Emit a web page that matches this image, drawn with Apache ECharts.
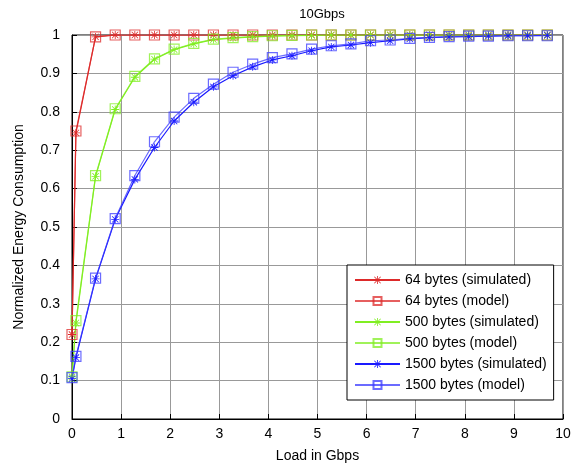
<!DOCTYPE html>
<html><head><meta charset="utf-8">
<script src="https://cdn.jsdelivr.net/npm/echarts@6/dist/echarts.min.js"></script>
<style>html,body{margin:0;padding:0;background:#fff}#c{width:586px;height:468px}</style>
</head><body><div id="c"></div>
<script>
const loads = [0, 0.08, 0.48, 0.88, 1.28, 1.68, 2.08, 2.48, 2.88, 3.28, 3.68, 4.08, 4.48, 4.88, 5.28, 5.68, 6.08, 6.48, 6.88, 7.28, 7.68, 8.08, 8.48, 8.88, 9.28, 9.68];
const red_sim   = [0.22, 0.745, 0.995, 1, 1, 1, 1, 1, 1, 1, 1, 1, 1, 1, 1, 1, 1, 1, 1, 1, 1, 1, 1, 1, 1, 1];
const red_model = [0.22, 0.75, 0.995, 1, 1, 1, 1, 1, 1, 1, 1, 1, 1, 1, 1, 1, 1, 1, 1, 1, 1, 1, 1, 1, 1, 1];
const green_sim   = [0.11, 0.25, 0.632, 0.806, 0.89, 0.937, 0.962, 0.977, 0.988, 0.992, 0.995, 0.997, 0.998, 0.999, 1, 1, 1, 1, 1, 1, 1, 1, 1, 1, 1, 1];
const green_model = [0.11, 0.256, 0.634, 0.808, 0.892, 0.938, 0.963, 0.978, 0.989, 0.993, 0.996, 0.998, 0.999, 1, 1, 1, 1, 1, 1, 1, 1, 1, 1, 1, 1, 1];
const blue_sim   = [0.105, 0.16, 0.365, 0.52, 0.624, 0.707, 0.776, 0.825, 0.865, 0.894, 0.917, 0.935, 0.946, 0.959, 0.969, 0.974, 0.98, 0.985, 0.99, 0.993, 0.995, 0.996, 0.997, 0.998, 0.998, 0.999];
const blue_model = [0.108, 0.163, 0.367, 0.522, 0.634, 0.722, 0.786, 0.835, 0.872, 0.903, 0.924, 0.941, 0.951, 0.963, 0.972, 0.977, 0.985, 0.987, 0.991, 0.994, 0.996, 0.997, 0.997, 0.998, 0.998, 0.998];
const names = ['64 bytes (simulated)', '64 bytes (model)', '500 bytes (simulated)', '500 bytes (model)', '1500 bytes (simulated)', '1500 bytes (model)'];
const xTicks = [0,1,2,3,4,5,6,7,8,9,10];

const STAR = 'path://M4.5 0L5.5 0L5.5 10L4.5 10ZM0 4.5L10 4.5L10 5.5L0 5.5ZM0.7 1.4L1.4 0.7L9.3 8.6L8.6 9.3ZM8.6 0.7L9.3 1.4L1.4 9.3L0.7 8.6Z';
const FONT = 'Liberation Sans';

function pts(ys){ return loads.map((x,i)=>[x, ys[i]]); }
function simSeries(name, ys, color){
  return {name, type:'line', data: pts(ys), symbol: STAR, symbolSize: 8,
    lineStyle:{color, width:1.2}, itemStyle:{color}, animation:false};
}
function modelSeries(name, ys, color){
  return {name, type:'line', data: pts(ys), symbol:'rect', symbolSize: 10,
    lineStyle:{color, width:1.2, opacity:0.75},
    itemStyle:{color:'rgba(0,0,0,0)', borderColor:color, borderWidth:1.2, opacity:0.75}, animation:false};
}
const chart = echarts.init(document.getElementById('c'), null, {renderer:'canvas'});
chart.setOption({
  backgroundColor:'#fff',
  textStyle:{fontFamily:FONT},
  title:{text:'10Gbps', left:317, top:3, textAlign:'center',
    textStyle:{fontFamily:FONT, fontSize:13, fontWeight:'normal', color:'#000'}},
  grid:{left:72, right:23, top:35, bottom:46, show:true, borderColor:'#000', borderWidth:1},
  legend:{orient:'vertical', left:347, top:265, itemWidth:45, itemHeight:10, itemGap:7,
    padding:[8,7,8,7], borderColor:'#000', borderWidth:1, backgroundColor:'#fff',
    textStyle:{fontFamily:FONT, fontSize:14, color:'#000'}, data:names},
  xAxis:{type:'value', min:0, max:10, interval:1, name:'Load in Gbps', nameLocation:'middle', nameGap:30,
    nameTextStyle:{fontFamily:FONT, fontSize:14, color:'#000'},
    axisLine:{lineStyle:{color:'#000'}}, axisTick:{inside:true, length:5, lineStyle:{color:'#000'}},
    axisLabel:{color:'#000', fontSize:14, fontFamily:FONT, margin:8, formatter:v=>xTicks.includes(v)?String(v):''},
    splitLine:{show:true, lineStyle:{color:'#999', width:1}}},
  yAxis:{type:'value', min:0, max:1, interval:0.1, name:'Normalized Energy Consumption', nameLocation:'middle', nameGap:46,
    nameTextStyle:{fontFamily:FONT, fontSize:14, color:'#000'},
    axisLine:{lineStyle:{color:'#000'}}, axisTick:{inside:true, length:5, lineStyle:{color:'#000'}},
    axisLabel:{color:'#000', fontSize:14, fontFamily:FONT, margin:12},
    splitLine:{show:true, lineStyle:{color:'#999', width:1}}},
  series:[
    simSeries(names[0], red_sim, '#dd2a2a'),
    modelSeries(names[1], red_model, '#dd2a2a'),
    simSeries(names[2], green_sim, '#80ee22'),
    modelSeries(names[3], green_model, '#80ee22'),
    simSeries(names[4], blue_sim, '#1a1aff'),
    modelSeries(names[5], blue_model, '#3a3aff')
  ]
});
</script></body></html>
